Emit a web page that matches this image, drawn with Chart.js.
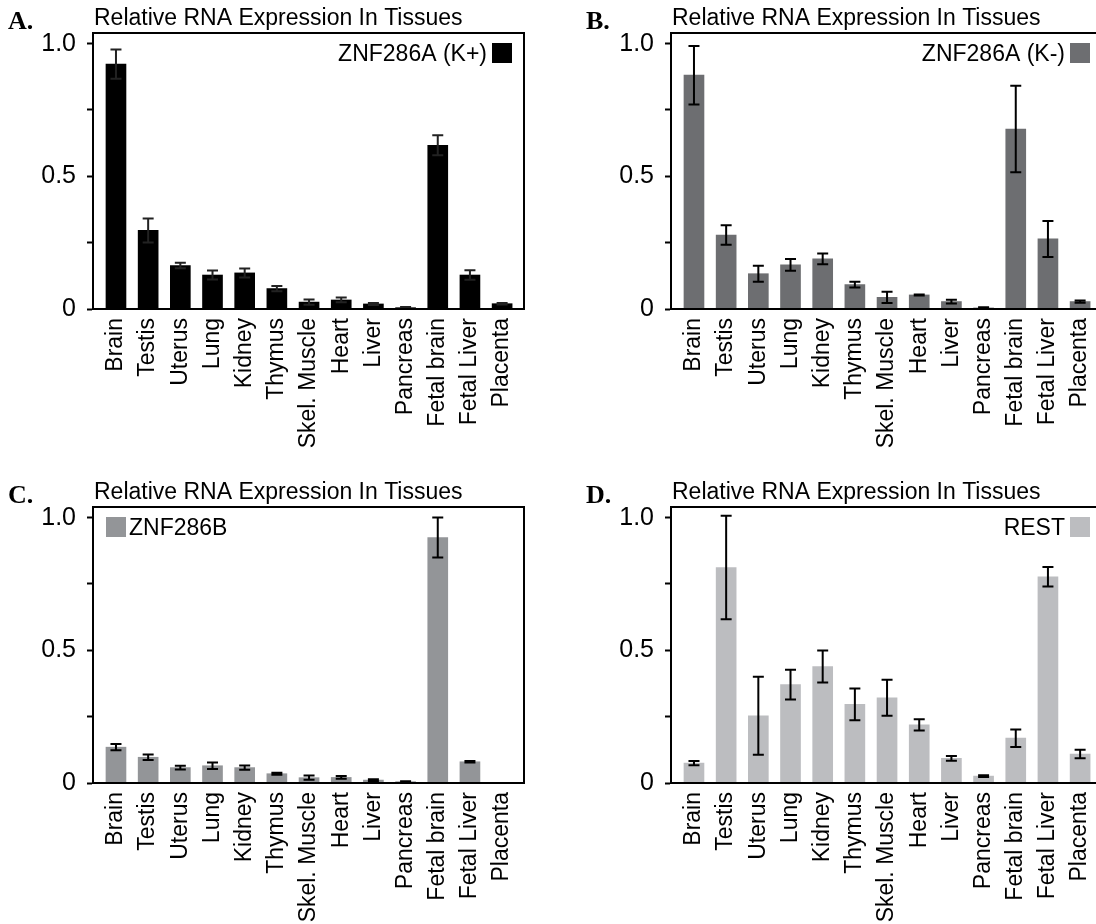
<!DOCTYPE html>
<html><head><meta charset="utf-8">
<script src="https://cdn.jsdelivr.net/npm/chart.js@4.4.0/dist/chart.umd.min.js"></script>
<style>
html,body{margin:0;padding:0;background:#fff;overflow:hidden;width:1096px;height:924px;}
canvas{position:absolute;}
</style></head><body>
<canvas id="cA" width="578" height="474" style="left:0;top:0"></canvas>
<canvas id="cB" width="578" height="474" style="left:578px;top:0"></canvas>
<canvas id="cC" width="578" height="474" style="left:0;top:474px"></canvas>
<canvas id="cD" width="578" height="474" style="left:578px;top:474px"></canvas>
<script>
// ---- data ----
const tissues = ['Brain','Testis','Uterus','Lung','Kidney','Thymus','Skel. Muscle','Heart','Liver','Pancreas','Fetal brain','Fetal Liver','Placenta'];
const yTickValues = [0, 0.25, 0.5, 0.75, 1.0];
const yTickLabels = ['0', '', '0.5', '', '1.0'];
const chartTitle = 'Relative RNA Expression In Tissues';

const valuesA = [0.923, 0.296, 0.164, 0.128, 0.136, 0.077, 0.026, 0.034, 0.019, 0.005, 0.617, 0.128, 0.020];
const errorsA = [0.055, 0.045, 0.010, 0.017, 0.017, 0.010, 0.010, 0.009, 0.004, 0.003, 0.038, 0.018, 0.003];

const valuesB = [0.881, 0.279, 0.133, 0.166, 0.189, 0.092, 0.044, 0.053, 0.028, 0.004, 0.678, 0.264, 0.028];
const errorsB = [0.110, 0.037, 0.030, 0.022, 0.020, 0.011, 0.021, 0.002, 0.007, 0.003, 0.163, 0.068, 0.004];

const valuesC = [0.135, 0.097, 0.058, 0.065, 0.058, 0.035, 0.020, 0.021, 0.011, 0.005, 0.925, 0.080, 0.000];
const errorsC = [0.012, 0.010, 0.007, 0.012, 0.008, 0.004, 0.008, 0.005, 0.003, 0.002, 0.075, 0.003, 0.000];

const valuesD = [0.075, 0.812, 0.253, 0.371, 0.439, 0.296, 0.321, 0.219, 0.093, 0.026, 0.169, 0.777, 0.109];
const errorsD = [0.008, 0.195, 0.147, 0.056, 0.060, 0.060, 0.068, 0.021, 0.009, 0.003, 0.033, 0.037, 0.016];

const FONT = "'Liberation Sans', Arial, Helvetica, sans-serif";
const SERIF = "'Liberation Serif', 'Times New Roman', serif";

const framePlugin = {
  id: 'frame',
  afterDraw(chart) {
    const {ctx, chartArea: a} = chart;
    ctx.save();
    ctx.strokeStyle = '#000';
    ctx.lineWidth = 2;
    ctx.strokeRect(a.left, a.top, a.right - a.left, a.bottom - a.top);
    ctx.restore();
  }
};

const errorPlugin = {
  id: 'errbars',
  afterDatasetsDraw(chart) {
    const {ctx} = chart;
    const ys = chart.scales.y;
    chart.data.datasets.forEach((ds, di) => {
      const meta = chart.getDatasetMeta(di);
      meta.data.forEach((bar, i) => {
        const v = ds.values[i], e = ds.errors[i];
        if (!e) return;
        const yt = ys.getPixelForValue(v + e);
        const yb = ys.getPixelForValue(Math.max(v - e, 0));
        const x = bar.x, cw = 5.5;
        ctx.save();
        ctx.strokeStyle = ds.errColor;
        ctx.lineWidth = 2;
        ctx.beginPath();
        ctx.moveTo(x, yt); ctx.lineTo(x, yb);
        ctx.moveTo(x - cw, yt); ctx.lineTo(x + cw, yt);
        ctx.moveTo(x - cw, yb); ctx.lineTo(x + cw, yb);
        ctx.stroke();
        ctx.restore();
      });
    });
  }
};

const textPlugin = {
  id: 'texts',
  afterDraw(chart) {
    const {ctx, chartArea: a} = chart;
    const o = chart.options.plugins.texts;
    ctx.save();
    ctx.fillStyle = '#000';
    ctx.textBaseline = 'alphabetic';
    ctx.font = 'bold 26px ' + SERIF;
    ctx.textAlign = 'left';
    ctx.fillText(o.letter, 8, 29);
    ctx.font = '23px ' + FONT;
    ctx.fillText(chartTitle, a.left + 1, 25);
    // legend
    const sw = 20, sy = a.top + 10;
    if (o.legendSide === 'right') {
      const sx = a.right - 32;
      ctx.fillStyle = o.color;
      ctx.fillRect(sx, sy, sw, sw);
      ctx.fillStyle = '#000';
      ctx.textAlign = 'right';
      ctx.fillText(o.legend, sx - 5, sy + 18);
    } else {
      const sx = a.left + 13;
      ctx.fillStyle = o.color;
      ctx.fillRect(sx, sy, sw, sw);
      ctx.fillStyle = '#000';
      ctx.textAlign = 'left';
      ctx.fillText(o.legend, sx + sw + 3, sy + 18);
    }
    ctx.restore();
  }
};

function makeChart(id, values, errors, color, legend, legendSide, letter, errColor) {
  return new Chart(document.getElementById(id), {
    type: 'bar',
    data: {
      datasets: [{
        data: values.map((v, i) => ({x: i, y: v})),
        values: values, errors: errors, errColor: errColor,
        backgroundColor: color,
        borderWidth: 0,
        barThickness: 20
      }]
    },
    options: {
      responsive: false,
      animation: false,
      devicePixelRatio: 1,
      layout: {padding: {top: 33, right: 54, bottom: 0, left: 0}},
      plugins: {
        legend: {display: false},
        tooltip: {enabled: false},
        texts: {letter, legend, legendSide, color}
      },
      scales: {
        x: {
          type: 'linear', min: -0.714, max: 12.68, offset: false,
          afterBuildTicks: s => { s.ticks = tissues.map((_, i) => ({value: i})); },
          afterFit: s => { s.height = 165; },
          grid: {display: true, drawOnChartArea: false, drawTicks: false},
          border: {display: true, color: '#000', width: 2},
          ticks: {
            autoSkip: false, maxRotation: 90, minRotation: 90, padding: 9,
            color: '#000', font: {family: FONT, size: 23},
            callback: v => tissues[v]
          }
        },
        y: {
          min: 0, max: 1.04,
          afterBuildTicks: s => { s.ticks = yTickValues.map(v => ({value: v})); },
          afterFit: s => { s.width = 93; },
          grid: {display: true, drawOnChartArea: false, drawTicks: true, tickLength: 6, tickWidth: 2, tickColor: '#000'},
          border: {display: true, color: '#000', width: 2},
          ticks: {
            padding: 11, color: '#000', font: {family: FONT, size: 25},
            callback: v => { const k = yTickValues.indexOf(v); return k >= 0 ? yTickLabels[k] : ''; }
          }
        }
      }
    },
    plugins: [errorPlugin, framePlugin, textPlugin]
  });
}

makeChart('cA', valuesA, errorsA, '#000000', 'ZNF286A (K+)', 'right', 'A.', '#222');
makeChart('cB', valuesB, errorsB, '#6d6e71', 'ZNF286A (K-)', 'right', 'B.', '#000');
makeChart('cC', valuesC, errorsC, '#939598', 'ZNF286B', 'left', 'C.', '#000');
makeChart('cD', valuesD, errorsD, '#bcbdc0', 'REST', 'right', 'D.', '#000');
</script>
</body></html>
